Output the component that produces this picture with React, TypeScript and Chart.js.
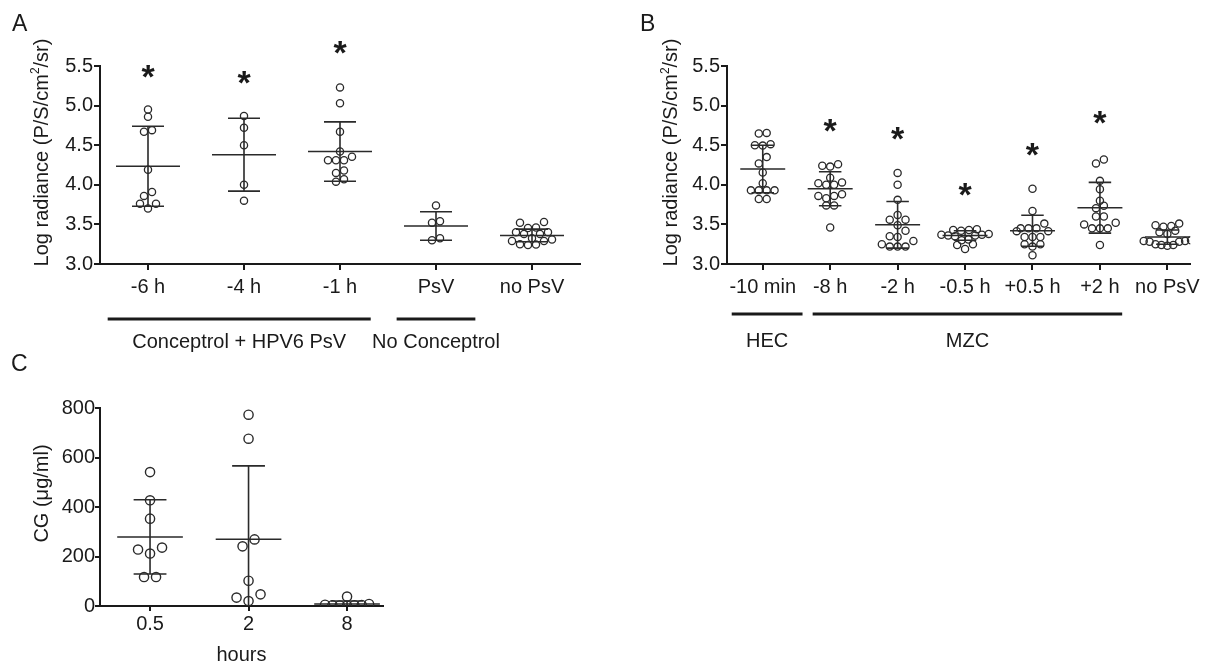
import React, { useEffect, useRef } from "react";
import { Chart, registerables } from "chart.js";

Chart.register(...registerables);

const FONT_FAMILY = "'Liberation Sans', Arial, Helvetica, sans-serif";
const INK = "#1a1a1a";
const MARK = "#2a2a2a";

// ---------------- Panel A data ----------------
const aCategories = ["-6 h", "-4 h", "-1 h", "PsV", "no PsV"];
const aMinus6h = [4.95, 4.86, 4.69, 4.67, 4.19, 3.91, 3.86, 3.76, 3.7, 3.76];
const aMinus4h = [4.87, 4.72, 4.5, 4.0, 3.8];
const aMinus1h = [5.23, 5.03, 4.67, 4.42, 4.31, 4.31, 4.31, 4.355, 4.18, 4.15, 4.04, 4.07];
const aPsV = [3.74, 3.54, 3.52, 3.3, 3.325];
const aNoPsV = [3.52, 3.53, 3.46, 3.455, 3.4, 3.38, 3.38, 3.4, 3.325, 3.29, 3.24, 3.25, 3.245, 3.29, 3.31];
const aMeans = [4.235, 4.38, 4.42, 3.48, 3.36];
const aSDs = [0.505, 0.46, 0.375, 0.18, 0.08];
const aStars: (number | null)[] = [5.466, 5.386, 5.76, null, null];
const aYTicks = [3.0, 3.5, 4.0, 4.5, 5.0, 5.5];
const aGroupLabels = ["Conceptrol + HPV6 PsV", "No Conceptrol"];

// ---------------- Panel B data ----------------
const bCategories = ["-10 min", "-8 h", "-2 h", "-0.5 h", "+0.5 h", "+2 h", "no PsV"];
const bMinus10min = [4.655, 4.647, 4.513, 4.5, 4.495, 4.35, 4.27, 4.155, 4.02, 3.93, 3.93, 3.93, 3.93, 3.82, 3.82];
const bMinus8h = [4.24, 4.23, 4.26, 4.09, 4.03, 4.0, 4.0, 4.02, 3.88, 3.86, 3.86, 3.83, 3.74, 3.74, 3.46];
const bMinus2h = [4.15, 4.0, 3.81, 3.56, 3.56, 3.62, 3.49, 3.35, 3.34, 3.42, 3.29, 3.25, 3.22, 3.22, 3.22];
const bMinus05h = [3.44, 3.43, 3.43, 3.42, 3.38, 3.37, 3.37, 3.36, 3.36, 3.35, 3.31, 3.3, 3.25, 3.24, 3.19];
const bPlus05h = [3.95, 3.67, 3.51, 3.45, 3.45, 3.45, 3.415, 3.415, 3.34, 3.34, 3.34, 3.25, 3.22, 3.25, 3.11];
const bPlus2h = [4.27, 4.32, 4.05, 3.945, 3.735, 3.8, 3.705, 3.6, 3.6, 3.5, 3.45, 3.45, 3.45, 3.52, 3.24];
const bNoPsV = [3.51, 3.49, 3.48, 3.47, 3.42, 3.4, 3.38, 3.3, 3.29, 3.29, 3.28, 3.28, 3.25, 3.24, 3.24, 3.23];
const bMeans = [4.2, 3.95, 3.495, 3.36, 3.42, 3.71, 3.34];
const bSDs = [0.3, 0.215, 0.295, 0.06, 0.195, 0.32, 0.09];
const bStars: (number | null)[] = [null, 4.78, 4.68, 3.976, 4.48, 4.885, null];
const bYTicks = [3.0, 3.5, 4.0, 4.5, 5.0, 5.5];
const bGroupLabels = ["HEC", "MZC"];

// ---------------- Panel C data ----------------
const cCategories = ["0.5", "2", "8"];
const cHour05 = [541, 427, 353, 228, 236, 212, 117, 117];
const cHour2 = [773, 676, 269, 241, 102, 47, 34, 20];
const cHour8 = [1, 2, 3, 3, 4, 5, 8, 38];
const cMeans = [279, 270, 8];
const cSDs = [150, 296, 12];
const cYTicks = [0, 200, 400, 600, 800];
const cXTitle = "hours";

const radianceTitle = [{ text: "Log radiance (P/S/cm" }, { text: "2", sup: true }, { text: "/sr)" }];
const cgTitle = [{ text: "CG (\u03bcg/ml)" }];

type Part = { text: string; sup?: boolean };
type Bracket = { label: string; from: number; to: number };

type Panel = {
  width: number;
  height: number;
  categories: string[];
  groups: number[][];
  means: number[];
  sds: number[];
  stars: (number | null)[];
  yTicks: number[];
  decimals: number;
  yMin: number;
  yMax: number;
  xMin: number;
  xMax: number;
  padTop: number;
  padRight: number;
  yAxisWidth: number;
  xAxisHeight: number;
  yTitle: Part[];
  yTitleX: number;
  yTitleY: number;
  xTitle?: string;
  brackets: Bracket[];
  bracketLineY: number;
  bracketTextY: number;
  radius: number;
  border: number;
  rowTolPx: number;
  stepPx: number;
  maxRowPx: number;
  tickLength: number;
  xTickPadding: number;
  yTickPadding: number;
  clipBottom: boolean;
};

function swarmOffsets(values: number[], tol: number, step: number, maxRow: number): number[] {
  const order = values.map((_, i) => i).sort((a, b) => values[a] - values[b]);
  const out = new Array(values.length).fill(0);
  let i = 0;
  while (i < order.length) {
    const start = values[order[i]];
    let j = i;
    while (j < order.length && values[order[j]] - start < tol) j++;
    const n = j - i;
    const s = n > 1 ? Math.min(step, maxRow / (n - 1)) : 0;
    const slots = Array.from({ length: n }, (_, k) => k - (n - 1) / 2).sort(
      (a, b) => Math.abs(a) - Math.abs(b) || a - b
    );
    for (let k = 0; k < n; k++) out[order[i + k]] = slots[k] * s;
    i = j;
  }
  return out;
}

function drawYTitle(ctx: CanvasRenderingContext2D, x: number, y: number, parts: Part[], size: number) {
  ctx.save();
  ctx.translate(x, y);
  ctx.rotate(-Math.PI / 2);
  const mainFont = `${size}px ${FONT_FAMILY}`;
  const supFont = `${Math.round(size * 0.62)}px ${FONT_FAMILY}`;
  const widths = parts.map((p) => {
    ctx.font = p.sup ? supFont : mainFont;
    return ctx.measureText(p.text).width;
  });
  const total = widths.reduce((a, b) => a + b, 0);
  ctx.fillStyle = INK;
  ctx.textBaseline = "middle";
  ctx.textAlign = "left";
  let cx = -total / 2;
  parts.forEach((p, i) => {
    ctx.font = p.sup ? supFont : mainFont;
    ctx.fillText(p.text, cx, p.sup ? -size * 0.32 : 0);
    cx += widths[i];
  });
  ctx.restore();
}

function buildChart(canvas: HTMLCanvasElement, p: Panel) {
  const plotW = p.width - p.yAxisWidth - p.padRight;
  const plotH = p.height - p.padTop - p.xAxisHeight;
  const pxPerX = plotW / (p.xMax - p.xMin);
  const pxPerY = plotH / (p.yMax - p.yMin);

  const datasets = p.groups.map((vals, gi) => {
    const offs = swarmOffsets(vals, p.rowTolPx / pxPerY, p.stepPx / pxPerX, p.maxRowPx / pxPerX);
    return {
      data: vals.map((v, k) => ({ x: gi + offs[k], y: v })),
      pointRadius: p.radius,
      pointHoverRadius: p.radius,
      pointBorderWidth: p.border,
      pointBorderColor: MARK,
      pointBackgroundColor: "rgba(0,0,0,0)",
      showLine: false,
    };
  });

  const tickFont = { family: FONT_FAMILY, size: 20 };
  const gridOpts = {
    display: true,
    drawOnChartArea: false,
    drawTicks: true,
    tickLength: p.tickLength,
    color: INK,
    lineWidth: 2,
  };
  const borderOpts = { display: true, color: INK, width: 2 };

  const decor = {
    id: "decor",
    afterDatasetsDraw(chart: any) {
      const ctx: CanvasRenderingContext2D = chart.ctx;
      const xs = chart.scales.x;
      const ys = chart.scales.y;
      const area = chart.chartArea;
      const unit = xs.getPixelForValue(1) - xs.getPixelForValue(0);
      ctx.save();
      if (p.clipBottom) {
        ctx.beginPath();
        ctx.rect(0, 0, chart.width, area.bottom);
        ctx.clip();
      }
      ctx.strokeStyle = MARK;
      ctx.lineWidth = 1.6;
      p.means.forEach((m, i) => {
        const x = xs.getPixelForValue(i);
        const ym = ys.getPixelForValue(m);
        const yt = ys.getPixelForValue(m + p.sds[i]);
        const yb = ys.getPixelForValue(m - p.sds[i]);
        const mh = unit / 3;
        const ch = unit / 6;
        ctx.beginPath();
        ctx.moveTo(x - mh, ym);
        ctx.lineTo(x + mh, ym);
        ctx.moveTo(x, yt);
        ctx.lineTo(x, yb);
        ctx.moveTo(x - ch, yt);
        ctx.lineTo(x + ch, yt);
        ctx.moveTo(x - ch, yb);
        ctx.lineTo(x + ch, yb);
        ctx.stroke();
      });
      ctx.restore();

      ctx.save();
      const starSize = 34;
      ctx.font = `bold ${starSize}px ${FONT_FAMILY}`;
      ctx.fillStyle = INK;
      ctx.textAlign = "center";
      ctx.textBaseline = "alphabetic";
      p.stars.forEach((s, i) => {
        if (s === null) return;
        const x = xs.getPixelForValue(i);
        const y = ys.getPixelForValue(s);
        ctx.fillText("*", x, y + starSize * 0.56);
      });
      ctx.restore();
    },
    afterDraw(chart: any) {
      const ctx: CanvasRenderingContext2D = chart.ctx;
      const xs = chart.scales.x;
      drawYTitle(ctx, p.yTitleX, p.yTitleY, p.yTitle, 20);
      ctx.save();
      ctx.strokeStyle = INK;
      ctx.fillStyle = INK;
      ctx.lineWidth = 3;
      ctx.font = `20px ${FONT_FAMILY}`;
      ctx.textAlign = "center";
      ctx.textBaseline = "middle";
      p.brackets.forEach((b) => {
        const x0 = xs.getPixelForValue(b.from);
        const x1 = xs.getPixelForValue(b.to);
        ctx.beginPath();
        ctx.moveTo(x0, p.bracketLineY);
        ctx.lineTo(x1, p.bracketLineY);
        ctx.stroke();
        ctx.fillText(b.label, (x0 + x1) / 2, p.bracketTextY);
      });
      ctx.restore();
    },
  };

  return new Chart(canvas, {
    type: "scatter",
    data: { datasets } as any,
    plugins: [decor],
    options: {
      animation: false,
      responsive: false,
      maintainAspectRatio: false,
      events: [],
      layout: { padding: { top: p.padTop, right: p.padRight, left: 0, bottom: 0 } },
      plugins: { legend: { display: false }, tooltip: { enabled: false } },
      scales: {
        x: {
          type: "linear",
          min: p.xMin,
          max: p.xMax,
          afterBuildTicks: (s: any) => {
            s.ticks = p.categories.map((_, i) => ({ value: i }));
          },
          afterFit: (s: any) => {
            s.height = p.xAxisHeight;
          },
          ticks: {
            autoSkip: false,
            maxRotation: 0,
            minRotation: 0,
            padding: p.xTickPadding,
            color: INK,
            font: tickFont,
            callback: (v: any) => p.categories[Math.round(Number(v))] ?? "",
          },
          grid: gridOpts,
          border: borderOpts,
          title: p.xTitle
            ? {
                display: true,
                text: p.xTitle,
                color: INK,
                font: { family: FONT_FAMILY, size: 20 },
                padding: { top: 0, bottom: 1 },
              }
            : { display: false },
        },
        y: {
          type: "linear",
          min: p.yMin,
          max: p.yMax,
          afterBuildTicks: (s: any) => {
            s.ticks = p.yTicks.map((v) => ({ value: v }));
          },
          afterFit: (s: any) => {
            s.width = p.yAxisWidth;
          },
          ticks: {
            padding: p.yTickPadding,
            color: INK,
            font: tickFont,
            callback: (v: any) => Number(v).toFixed(p.decimals),
          },
          grid: gridOpts,
          border: borderOpts,
        },
      },
    } as any,
  });
}

const panelA: Panel = {
  width: 590,
  height: 360,
  categories: aCategories,
  groups: [aMinus6h, aMinus4h, aMinus1h, aPsV, aNoPsV],
  means: aMeans,
  sds: aSDs,
  stars: aStars,
  yTicks: aYTicks,
  decimals: 1,
  yMin: 3.0,
  yMax: 5.5,
  xMin: -0.5,
  xMax: 4.5,
  padTop: 66,
  padRight: 10,
  yAxisWidth: 100,
  xAxisHeight: 96,
  yTitle: radianceTitle,
  yTitleX: 42,
  yTitleY: 152.5,
  brackets: [
    { label: aGroupLabels[0], from: -0.42, to: 2.32 },
    { label: aGroupLabels[1], from: 2.59, to: 3.41 },
  ],
  bracketLineY: 319,
  bracketTextY: 342,
  radius: 3.6,
  border: 1.3,
  rowTolPx: 6.5,
  stepPx: 8,
  maxRowPx: 48,
  tickLength: 6,
  xTickPadding: 5,
  yTickPadding: 1,
  clipBottom: false,
};

const panelB: Panel = {
  width: 615,
  height: 360,
  categories: bCategories,
  groups: [bMinus10min, bMinus8h, bMinus2h, bMinus05h, bPlus05h, bPlus2h, bNoPsV],
  means: bMeans,
  sds: bSDs,
  stars: bStars,
  yTicks: bYTicks,
  decimals: 1,
  yMin: 3.0,
  yMax: 5.5,
  xMin: -0.53,
  xMax: 6.34,
  padTop: 66,
  padRight: 8,
  yAxisWidth: 137,
  xAxisHeight: 96,
  yTitle: radianceTitle,
  yTitleX: 81.7,
  yTitleY: 152.5,
  brackets: [
    { label: bGroupLabels[0], from: -0.46, to: 0.59 },
    { label: bGroupLabels[1], from: 0.74, to: 5.33 },
  ],
  bracketLineY: 314,
  bracketTextY: 341,
  radius: 3.6,
  border: 1.3,
  rowTolPx: 6.5,
  stepPx: 8,
  maxRowPx: 48,
  tickLength: 6,
  xTickPadding: 5,
  yTickPadding: 1,
  clipBottom: false,
};

const panelC: Panel = {
  width: 400,
  height: 328,
  categories: cCategories,
  groups: [cHour05, cHour2, cHour8],
  means: cMeans,
  sds: cSDs,
  stars: [null, null, null],
  yTicks: cYTicks,
  decimals: 0,
  yMin: 0,
  yMax: 800,
  xMin: -0.508,
  xMax: 2.365,
  padTop: 68,
  padRight: 17,
  yAxisWidth: 100,
  xAxisHeight: 62,
  yTitle: cgTitle,
  yTitleX: 42,
  yTitleY: 153.5,
  xTitle: cXTitle,
  brackets: [],
  bracketLineY: 0,
  bracketTextY: 0,
  radius: 4.6,
  border: 1.4,
  rowTolPx: 9,
  stepPx: 12,
  maxRowPx: 44,
  tickLength: 5,
  xTickPadding: 1,
  yTickPadding: 0,
  clipBottom: true,
};

function PanelChart({ spec, left, top }: { spec: Panel; left: number; top: number }) {
  const ref = useRef<HTMLCanvasElement | null>(null);
  useEffect(() => {
    if (!ref.current) return;
    const chart = buildChart(ref.current, spec);
    return () => chart.destroy();
  }, [spec]);
  return (
    <div style={{ position: "absolute", left, top, width: spec.width, height: spec.height }}>
      <canvas
        ref={ref}
        width={spec.width}
        height={spec.height}
        style={{ display: "block", width: spec.width, height: spec.height }}
      />
    </div>
  );
}

const letterStyle: React.CSSProperties = {
  position: "absolute",
  fontFamily: FONT_FAMILY,
  fontSize: 23,
  lineHeight: "23px",
  color: INK,
};

export default function App() {
  return (
    <div
      style={{
        position: "absolute",
        left: 0,
        top: 0,
        width: 1205,
        height: 668,
        background: "#ffffff",
        overflow: "hidden",
      }}
    >
      <PanelChart spec={panelA} left={0} top={0} />
      <PanelChart spec={panelB} left={590} top={0} />
      <PanelChart spec={panelC} left={0} top={340} />
      <div style={{ ...letterStyle, left: 12, top: 12 }}>A</div>
      <div style={{ ...letterStyle, left: 640, top: 12 }}>B</div>
      <div style={{ ...letterStyle, left: 11, top: 352 }}>C</div>
    </div>
  );
}
